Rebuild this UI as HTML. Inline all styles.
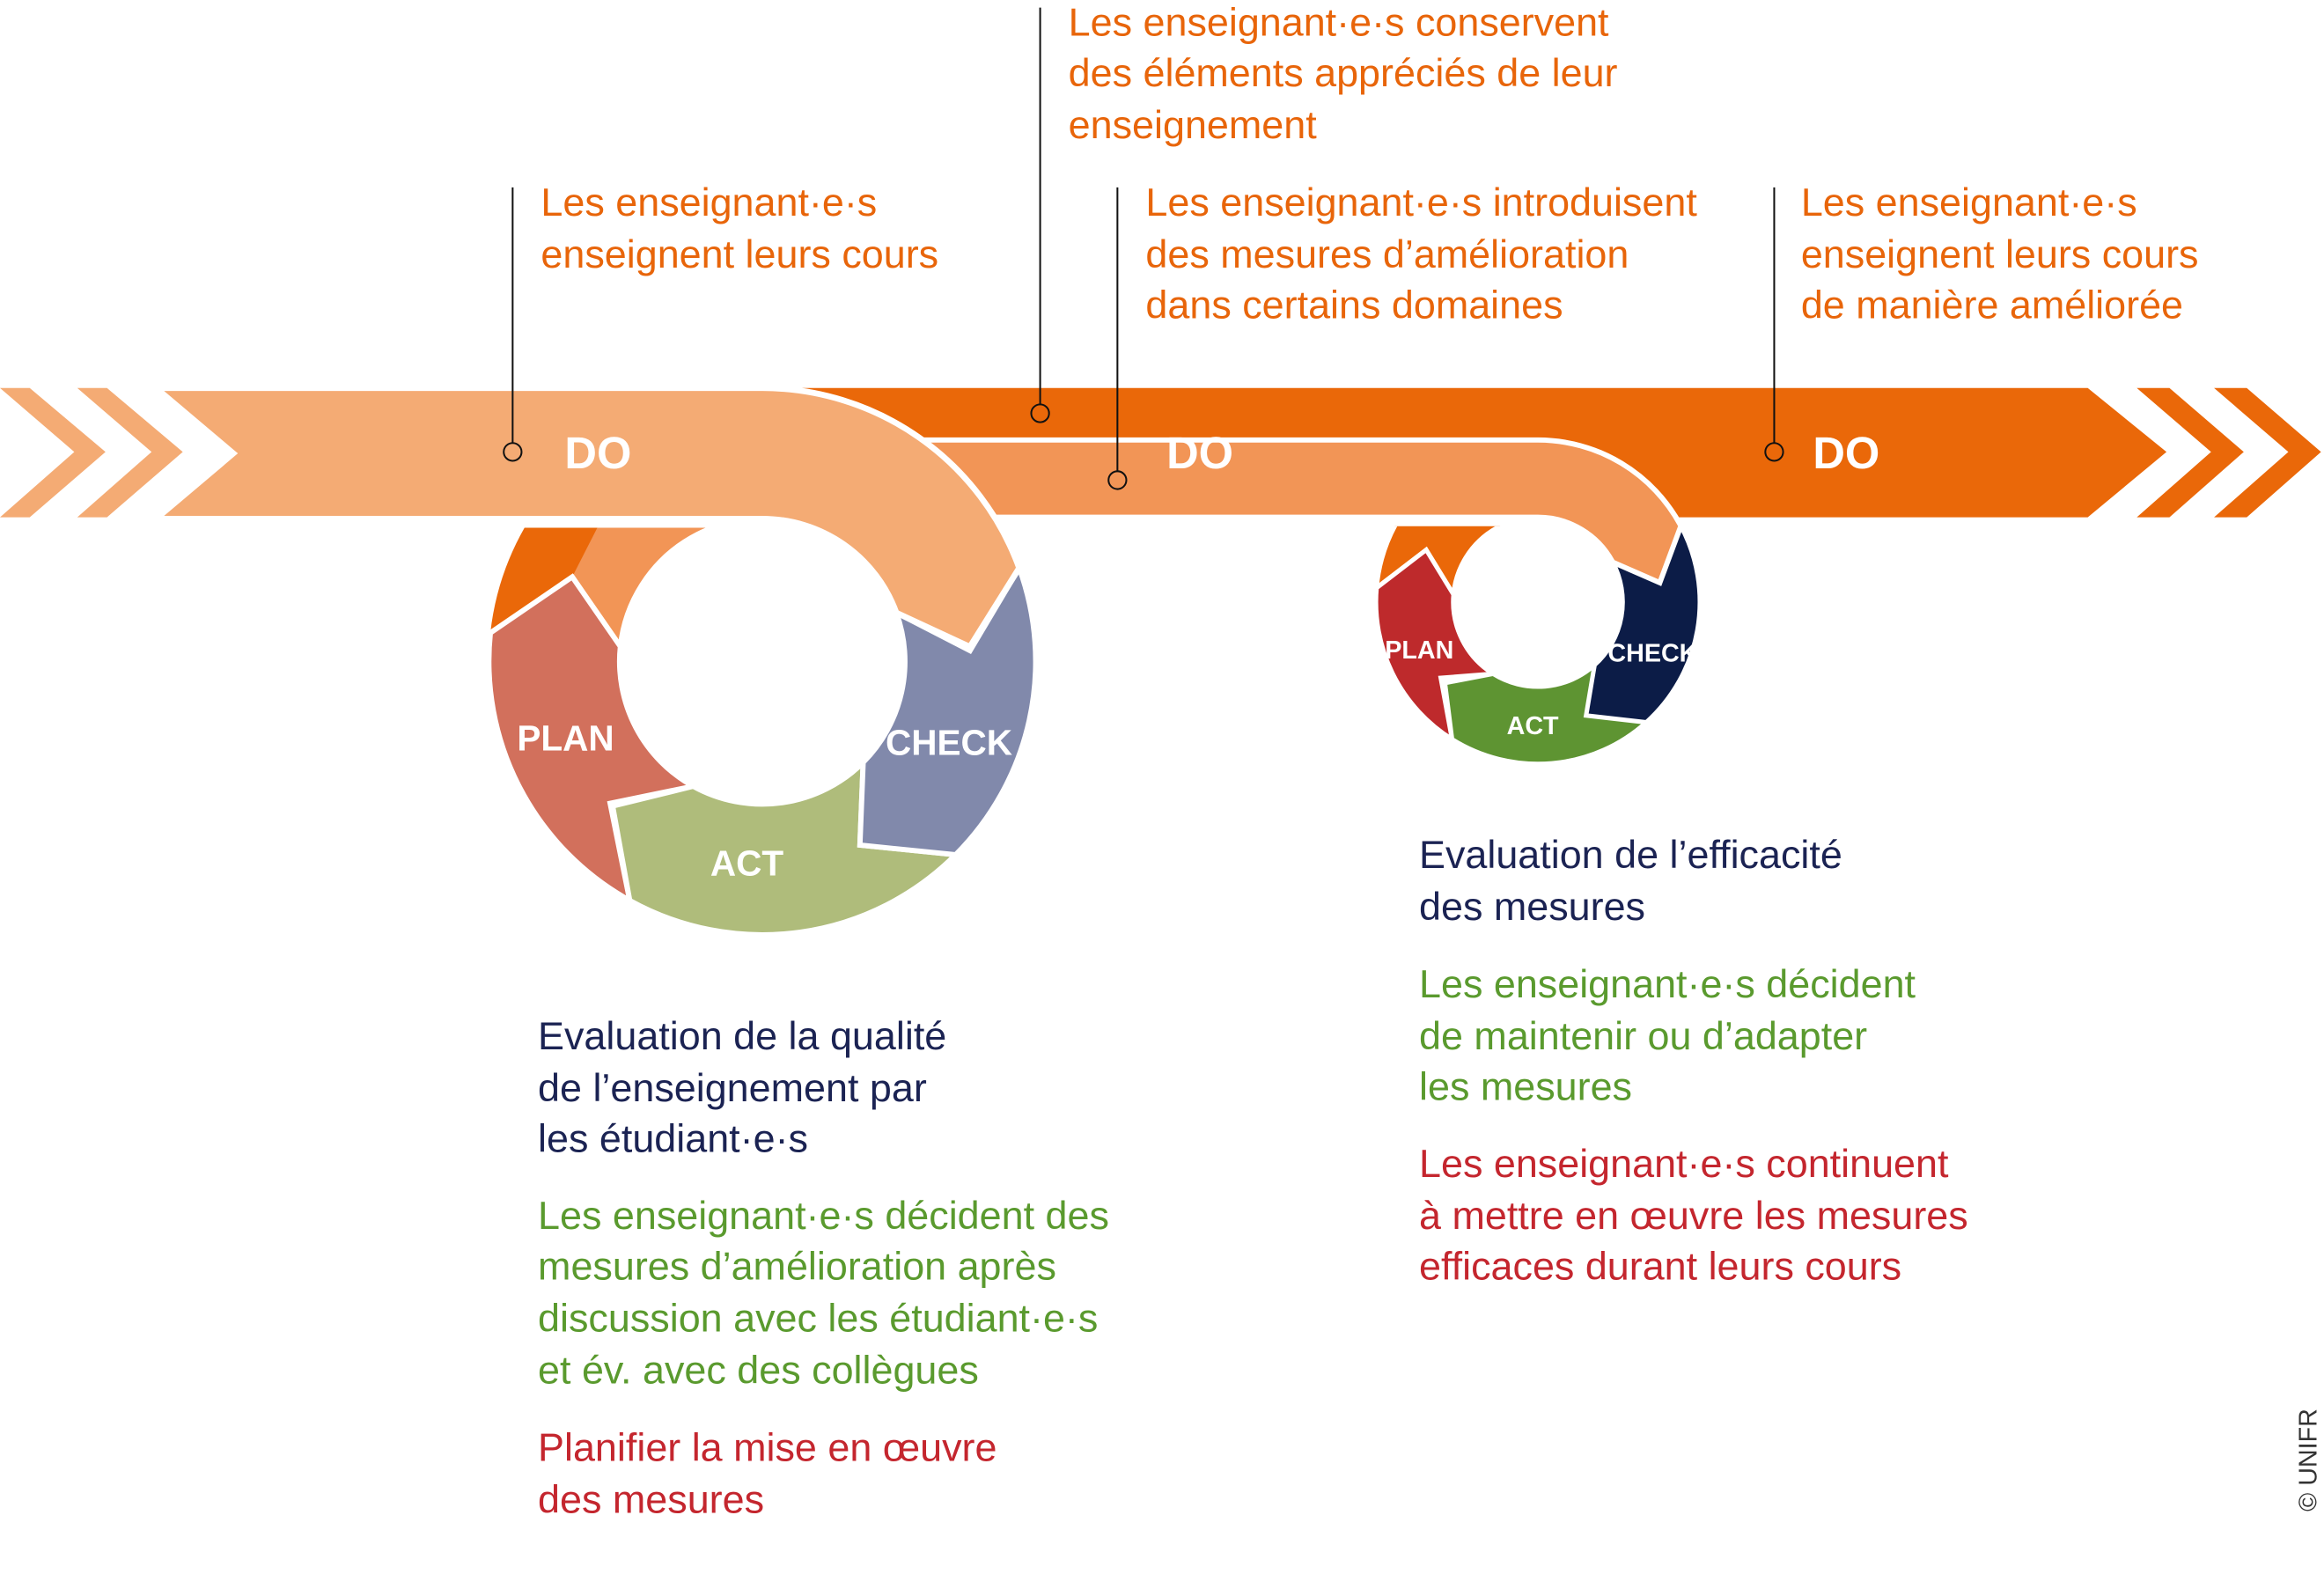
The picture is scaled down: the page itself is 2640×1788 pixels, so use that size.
<!DOCTYPE html>
<html><head><meta charset="utf-8">
<style>
html,body{margin:0;padding:0;background:#fff;}
svg{display:block;}
text{font-family:"Liberation Sans",sans-serif;}
.o{fill:#E8650A;font-size:26.6px;}
.n{fill:#1B2353;font-size:26.6px;}
.g{fill:#5A9A2E;font-size:26.6px;}
.r{fill:#C4262E;font-size:26.6px;}
.w{fill:#fff;font-weight:bold;}
</style></head>
<body>
<svg id="s" width="2640" height="1788" viewBox="0 0 1564 1059" xmlns="http://www.w3.org/2000/svg">
<defs>
<clipPath id="cl1"><rect x="0" y="355" width="1564" height="800"/></clipPath>
<clipPath id="cl2"><rect x="0" y="354" width="1564" height="800"/></clipPath>
</defs>
<path d="M540,261 L1405,261 L1458,304 L1405,348 L540,348 Z" fill="#EA6809"/>
<path d="M1438,261 L1460,261 L1510,304 L1460,348 L1438,348 L1488,304 Z" fill="#EA6809"/>
<path d="M1490,261 L1512,261 L1562,304 L1512,348 L1490,348 L1540,304 Z" fill="#EA6809"/>
<path d="M0,261 L20,261 L71,304 L20,348 L0,348 L50,304 Z" fill="#F4AB74"/>
<path d="M52,261 L72,261 L123,304 L72,348 L52,348 L102,304 Z" fill="#F4AB74"/>
<g id="dyn"></g>
<g stroke="#111" stroke-width="1.2" fill="none">
<line x1="345" y1="126" x2="345" y2="298"/><circle cx="345" cy="304" r="6"/>
<line x1="700" y1="5" x2="700" y2="272"/><circle cx="700" cy="278" r="6"/>
<line x1="752" y1="126" x2="752" y2="317"/><circle cx="752" cy="323" r="6"/>
<line x1="1194" y1="126" x2="1194" y2="298"/><circle cx="1194" cy="304" r="6"/>
</g>
<text class="w" x="380" y="315" font-size="30">DO</text>
<text class="w" x="785" y="315" font-size="30">DO</text>
<text class="w" x="1220" y="315" font-size="30">DO</text>
<text class="w" x="348" y="505" font-size="24">PLAN</text>
<text class="w" x="596" y="508" font-size="24">CHECK</text>
<text class="w" x="478" y="589" font-size="24">ACT</text>
<text class="w" x="932" y="443" font-size="17">PLAN</text>
<text class="w" x="1082" y="445" font-size="17">CHECK</text>
<text class="w" x="1014" y="494" font-size="17">ACT</text>

<text class="o" x="364" y="145">Les enseignant·e·s</text>
<text class="o" x="364" y="180">enseignent leurs cours</text>
<text class="o" x="719" y="24">Les enseignant·e·s conservent</text>
<text class="o" x="719" y="58">des éléments appréciés de leur</text>
<text class="o" x="719" y="93">enseignement</text>
<text class="o" x="771" y="145">Les enseignant·e·s introduisent</text>
<text class="o" x="771" y="180">des mesures d’amélioration</text>
<text class="o" x="771" y="214">dans certains domaines</text>
<text class="o" x="1212" y="145">Les enseignant·e·s</text>
<text class="o" x="1212" y="180">enseignent leurs cours</text>
<text class="o" x="1212" y="214">de manière améliorée</text>

<text class="n" x="362" y="706">Evaluation de la qualité</text>
<text class="n" x="362" y="741">de l’enseignement par</text>
<text class="n" x="362" y="775">les étudiant·e·s</text>
<text class="g" x="362" y="827">Les enseignant·e·s décident des</text>
<text class="g" x="362" y="861">mesures d’amélioration après</text>
<text class="g" x="362" y="896">discussion avec les étudiant·e·s</text>
<text class="g" x="362" y="931">et év. avec des collègues</text>
<text class="r" x="362" y="983">Planifier la mise en œuvre</text>
<text class="r" x="362" y="1018">des mesures</text>

<text class="n" x="955" y="584">Evaluation de l’efficacité</text>
<text class="n" x="955" y="619">des mesures</text>
<text class="g" x="955" y="671">Les enseignant·e·s décident</text>
<text class="g" x="955" y="706">de maintenir ou d’adapter</text>
<text class="g" x="955" y="740">les mesures</text>
<text class="r" x="955" y="792">Les enseignant·e·s continuent</text>
<text class="r" x="955" y="827">à mettre en œuvre les mesures</text>
<text class="r" x="955" y="861">efficaces durant leurs cours</text>

<text x="1559" y="1017" font-size="17" fill="#333" transform="rotate(-90 1559 1017)">© UNIFR</text>
</svg>
<script>
(function(){
var NS="http://www.w3.org/2000/svg",g=document.getElementById("dyn");
function P(cx,cy,r,a){a=a*Math.PI/180;return (cx+r*Math.cos(a)).toFixed(1)+","+(cy+r*Math.sin(a)).toFixed(1);}
function add(d,fill,sw,clip){var p=document.createElementNS(NS,"path");p.setAttribute("d",d);p.setAttribute("fill",fill);
 if(sw){p.setAttribute("stroke","#fff");p.setAttribute("stroke-width",sw);p.setAttribute("stroke-linejoin","miter");}
 if(clip)p.setAttribute("clip-path","url(#"+clip+")");g.appendChild(p);}
function seg(cx,cy,ri,ro,a1,a2,d,fill,sw,clip,notip){
 var rm=(ri+ro)/2,big=(a2-a1)>180?1:0;
 var s="M"+P(cx,cy,ro,a1)+" A"+ro+","+ro+" 0 "+big+" 1 "+P(cx,cy,ro,a2);
 if(!notip)s+=" L"+P(cx,cy,rm,a2+d);
 s+=" L"+P(cx,cy,ri,a2)+" A"+ri+","+ri+" 0 "+big+" 0 "+P(cx,cy,ri,a1)+" L"+P(cx,cy,rm,a1+d)+" Z";
 add(s,fill,sw,clip);}
var cx=513,cy=445,ri=96,ro=184;
seg(cx,cy,ri,ro,186,300,18,"#F29556",3.5,"cl1",true);
add("M"+P(cx,cy,ro,186)+" A184,184 0 0 1 353,355 L402,355 L"+P(cx,cy,140,204)+" Z","#EA6809",0,"cl1");
seg(cx,cy,ri,ro,119,186,18,"#D2705C",3.5);
seg(cx,cy,ri,ro,45,119,17,"#AFBC7B",3.5);
seg(cx,cy,ri,ro,-20,45,17,"#8189AB",3.5);
var sx=1035,sy=405,si=57,so=109;
seg(sx,sy,si,so,185,300,20,"#EA6809",3,"cl2",true);
seg(sx,sy,si,so,122,185,20,"#BE2A2C",3);
seg(sx,sy,si,so,48,122,17,"#5E9432",3);
seg(sx,sy,si,so,-28,48,19,"#0C1C47",3);
add("M560,296 L1035,296 A109,109 0 0 1 "+P(sx,sy,109,-28)+" L"+P(sx,sy,83,-9)+" L"+P(sx,sy,57,-28)+" A57,57 0 0 0 1035,348 L560,348 Z","#F29556",3.5);
add("M105,261 L513,261 A184,184 0 0 1 "+P(cx,cy,184,-20)+" L"+P(cx,cy,140,-4)+" L"+P(cx,cy,96,-20)+" A96,96 0 0 0 513,349 L105,349 L157,305 Z","#F4AB74",4);
})();
</script>
</body></html>
